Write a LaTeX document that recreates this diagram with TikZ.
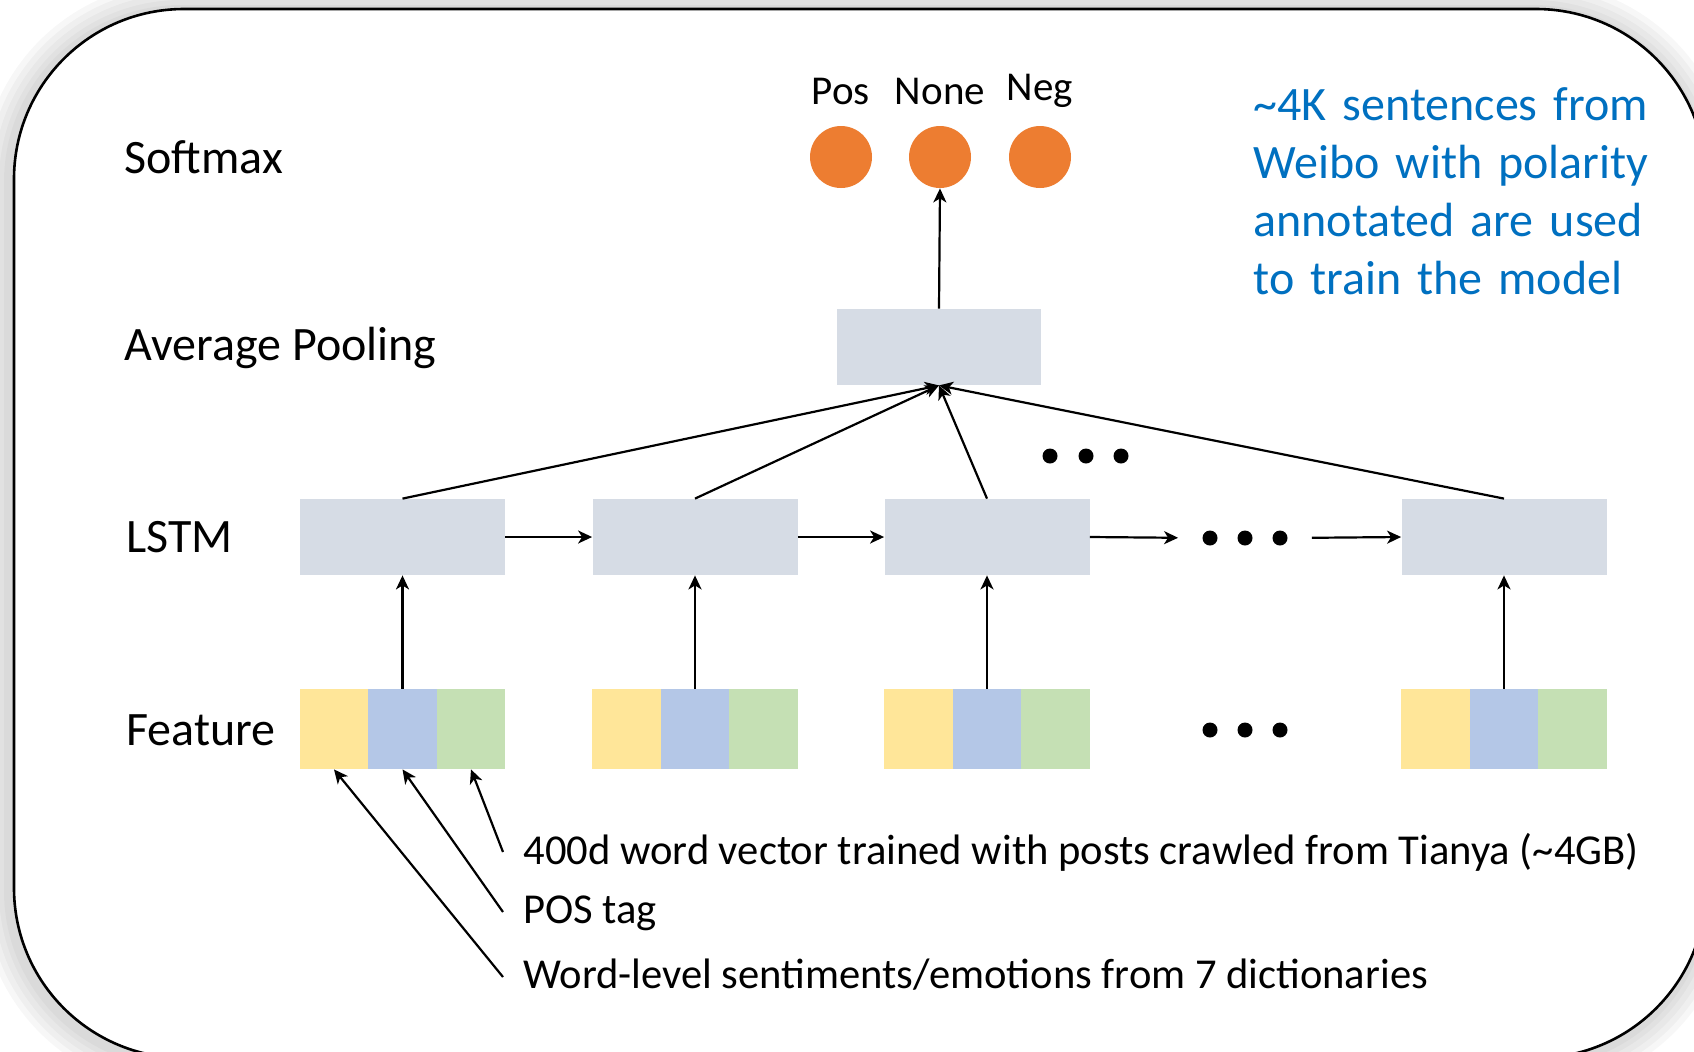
\documentclass[tikz,border=0pt]{standalone}
\usepackage{fontspec}
\setmainfont{Carlito}
\usetikzlibrary{arrows.meta}
\definecolor{boxgray}{HTML}{D6DCE5}
\definecolor{fyel}{HTML}{FFE699}
\definecolor{fblu}{HTML}{B4C7E7}
\definecolor{fgrn}{HTML}{C5E0B4}
\definecolor{sorange}{HTML}{ED7D31}
\definecolor{tblue}{HTML}{0070C0}
\begin{document}
\begin{tikzpicture}[x=0.5pt,y=-0.5pt,
  lbl/.style={font=\fontsize{24}{29}\selectfont, inner sep=0pt, anchor=west},
  small/.style={font=\fontsize{20.5}{25}\selectfont, inner sep=0pt},
  note/.style={font=\fontsize{21.3}{26}\selectfont, inner sep=0pt, anchor=west},
  circ/.style={circle, fill=sorange, minimum size=31pt, inner sep=0pt},
  lstmbox/.style={fill=boxgray, minimum width=102.5pt, minimum height=38pt, inner sep=0pt},
  seg/.style={minimum width=34.25pt, minimum height=40pt, inner sep=0pt},
  dotn/.style={circle, fill=black, minimum size=7.5pt, inner sep=0pt},
  arr/.style={line width=1.1pt, -{Stealth[length=7pt,width=6.5pt,inset=2pt]}},
  frame/.style={rounded corners=85pt}]
\useasboundingbox (0,0) rectangle (1694,1051);
\begin{scope}
\clip (0,0) rectangle (1694,1051);
\foreach \w in {30,24,18,12,7} {
  \draw[frame, line width=\w pt, black, opacity=0.03] (11,12) rectangle (1703,1061);
}
\fill[white, frame] (14,9) rectangle (1706,1058);
\draw[frame, line width=1.3pt] (14,9) rectangle (1706,1058);
\end{scope}

% row labels
\node[lbl] (lsoft) at (124,157) {Softmax};
\node[lbl] (lpool) at (124,348) {Average Pooling};
\node[lbl] (llstm) at (126,537) {LSTM};
\node[lbl] (lfeat) at (126,730) {Feature};

% softmax outputs
\node[circ] (pos) at (841,157) {};
\node[circ] (none) at (940,157) {};
\node[circ] (neg) at (1040,157) {};
\node[small] (tpos) at (841,91) {Pos};
\node[small] (tnone) at (940,91) {None};
\node[small] (tneg) at (1040,91) {Neg};

% pooling
\node[fill=boxgray, minimum width=102pt, minimum height=38pt, inner sep=0pt] (pool) at (939,347) {};

% LSTM boxes
\node[lstmbox] (l1) at (402.5,537) {};
\node[lstmbox] (l2) at (695,537) {};
\node[lstmbox] (l3) at (987,537) {};
\node[lstmbox] (l4) at (1504,537) {};

% feature boxes
\foreach \n/\x in {1/402.5,2/695,3/987,4/1504} {
  \node[seg, fill=fyel] (f\n y) at (\x-68.5,729) {};
  \node[seg, fill=fblu] (f\n b) at (\x,729) {};
  \node[seg, fill=fgrn] (f\n g) at (\x+68.5,729) {};
}

% dots
\node[dotn] (u1) at (1050,456) {};
\node[dotn] (u2) at (1086,456) {};
\node[dotn] (u3) at (1121,456) {};
\node[dotn] (m1) at (1210,538) {};
\node[dotn] (m2) at (1245,538) {};
\node[dotn] (m3) at (1280,538) {};
\node[dotn] (b1) at (1210,730) {};
\node[dotn] (b2) at (1245,730) {};
\node[dotn] (b3) at (1280,730) {};

% arrows
\draw[arr] (pool.north) -- (none.south);
\foreach \n in {1,2,3,4} {
  \draw[arr] (l\n.north) -- (pool.south);
  \draw[arr] (f\n b.north) -- (l\n.south);
}
\draw[arr] (l1.east) -- (l2.west);
\draw[arr] (l2.east) -- (l3.west);
\draw[arr, shorten >=12pt] (l3.east) -- (m1.west);
\draw[arr, shorten <=12pt] (m3.east) -- (l4.west);

% feature notes
\node[note] (t1) at (523,852) {400d word vector trained with posts crawled from Tianya (\textasciitilde 4GB)};
\node[note] (t2) at (523,913) {POS tag};
\node[note] (t3) at (523,975) {Word-level sentiments/emotions from 7 dictionaries};
\coordinate (a1) at (503,852);
\coordinate (a2) at (503,912);
\coordinate (a3) at (503,977);
\draw[arr] (a1) -- (f1g.south);
\draw[arr] (a2) -- (f1b.south);
\draw[arr] (a3) -- (f1y.south);

% side note
\node[font=\fontsize{24}{29}\selectfont, text=tblue, text width=200pt, align=left, inner sep=0pt, anchor=north west] (side) at (1253,87)
  {\makebox[195pt][s]{\textasciitilde 4K sentences from}\\
   \makebox[195pt][s]{Weibo with polarity}\\
   \makebox[195pt][s]{annotated are used}\\
   to train the model};
\end{tikzpicture}
\end{document}
